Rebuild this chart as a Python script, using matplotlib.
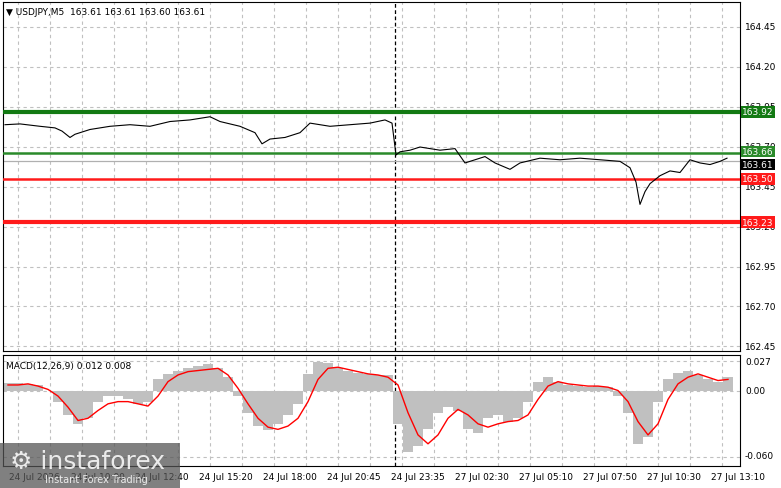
import numpy as np
import matplotlib
matplotlib.use("Agg")
import matplotlib.pyplot as plt
from matplotlib.patches import Rectangle

# price line: x in chart pixels, price values
px_x = [5,20,40,55,62,70,75,90,110,130,150,170,190,210,220,240,255,262,270,285,300,310,330,350,370,385,392,
        396,400,410,420,430,440,455,465,475,485,495,510,520,540,560,580,600,620,630,636,640,645,650,660,670,680,690,700,710,720,727]
price = [163.84,163.845,163.83,163.82,163.80,163.76,163.78,163.81,163.83,163.84,163.83,163.86,163.87,163.89,163.86,163.83,163.79,163.72,163.75,163.76,163.79,163.85,163.83,163.84,163.85,163.87,163.85,
         163.65,163.67,163.68,163.70,163.69,163.68,163.69,163.60,163.62,163.64,163.60,163.56,163.60,163.63,163.62,163.63,163.62,163.61,163.57,163.48,163.34,163.42,163.47,163.52,163.55,163.54,163.62,163.60,163.59,163.61,163.63]

hist = [7,7,6,5,0,-10,-22,-30,-25,-10,-5,-5,-8,-12,-10,10,15,18,20,22,24,20,12,-5,-20,-32,-36,-30,-22,-12,
        15,26,25,20,18,16,15,14,14,-30,-55,-50,-35,-20,-15,-18,-35,-38,-25,-22,-28,-25,-10,8,12,8,5,4,3,4,3,
        -5,-20,-48,-42,-10,10,16,18,14,10,8,12]
signal = [5,5,6,4,1,-5,-15,-27,-25,-18,-12,-10,-10,-12,-14,-5,8,14,17,18,19,20,14,2,-12,-25,-33,-35,-32,-25,
          -10,10,20,21,19,17,15,14,12,5,-20,-40,-48,-40,-25,-17,-22,-30,-33,-30,-28,-27,-22,-8,4,8,6,5,4,4,3,
          0,-10,-28,-40,-30,-8,6,12,15,12,9,10]

price_ticks = [164.45,164.20,163.95,163.70,163.45,163.20,162.95,162.70,162.45]
tick_labels = ["24 Jul 2026","24 Jul 10:00","24 Jul 12:40","24 Jul 15:20","24 Jul 18:00","24 Jul 20:45",
               "24 Jul 23:35","27 Jul 02:30","27 Jul 05:10","27 Jul 07:50","27 Jul 10:30","27 Jul 13:10"]
levels = [(163.92,'#137a13',3),(163.66,'#2a8a2a',1.8),(163.50,'#ff1a1a',1.8),(163.23,'#ff1a1a',3)]

W,H = 781,489
fig = plt.figure(figsize=(W/100,H/100),dpi=100)
plt.rcParams['font.family'] = 'DejaVu Sans'
def ax_at(l,t,r,b):
    return fig.add_axes([l/W,1-b/H,(r-l)/W,(b-t)/H])
ax = ax_at(3,3,740,352)
mx = ax_at(3,356,740,467)

to_bar = lambda x: (np.asarray(x)-3)/2
xmax = (740-3)/2
grid_x = np.arange(7.5,xmax,16)
for a in (ax,mx):
    a.set_xlim(0,xmax)
    a.set_xticks([]); a.set_yticks([])
    for gx in grid_x:
        a.axvline(gx,color='#c0c0c0',ls=(0,(3,3)),lw=0.8,zorder=0)
    a.axvline(to_bar(395),color='black',ls=(0,(3,2)),lw=0.9,zorder=1)
    for s in a.spines.values(): s.set_linewidth(0.8)

ax.set_ylim(162.42,164.61)
for p in price_ticks:
    ax.axhline(p,color='#c0c0c0',ls=(0,(3,3)),lw=0.8,zorder=0)
    fig.text(745/W,1-(28+(164.45-p)*160)/H,f"{p:.2f}",fontsize=6.5,va='center',ha='left')
ax.axhline(163.61,color='#b0b0b0',lw=0.9)
for lv,c,lw in levels:
    ax.axhline(lv,color=c,lw=lw,zorder=3)
ax.plot(to_bar(px_x),price,color='black',lw=0.8,zorder=4)
boxes = [(163.92,'#137a13','white'),(163.66,'#2a8a2a','white'),(163.61,'black','white'),(163.50,'#ff1a1a','white'),(163.23,'#ff1a1a','white')]
for v,bc,tc in boxes:
    y = 1-(28+(164.45-v)*160)/H
    if v==163.61: y -= 3/H
    if v==163.66: y += 2/H
    fig.text(742/W,y,f"{v:.2f}",fontsize=6.5,color=tc,va='center',ha='left',
             bbox=dict(boxstyle='square,pad=0.15',fc=bc,ec='none'))
ax.text(0.004,0.985,"▼ USDJPY,M5  163.61 163.61 163.60 163.61",transform=ax.transAxes,fontsize=6.5,va='top')

mx.set_ylim(-0.068,0.032)
for v in [0.027,0.0,-0.06]:
    mx.axhline(v,color='#c0c0c0',ls=(0,(3,3)),lw=0.8,zorder=0)
    fig.text(745/W,1-(392-v/0.00093)/H,f"{v:.3f}" if v else "0.00",fontsize=6.5,va='center',ha='left')
mxc = to_bar(np.arange(8,8+10*len(hist),10))
mx.bar(mxc,np.array(hist)/1000,width=5,color='#c0c0c0',zorder=2)
mx.plot(mxc,np.array(signal)/1000,color='red',lw=1,zorder=3)
mx.text(0.004,0.95,"MACD(12,26,9) 0.012 0.008",transform=mx.transAxes,fontsize=6.5,va='top')

for i,l in enumerate(tick_labels):
    fig.text((34+64*i)/W,1-478/H,l,fontsize=6.5,ha='center',va='center')

fig.patches.append(Rectangle((0,0),180/W,45/H,transform=fig.transFigure,fc='#555555',alpha=0.75,ec='none',zorder=5))
fig.text(10/W,1-462/H,"⚙ instaforex",fontsize=18,color='white',alpha=0.85,va='center',zorder=6)
fig.text(45/W,1-480/H,"Instant Forex Trading",fontsize=7,color='white',alpha=0.85,va='center',zorder=6)
fig.savefig("out.png",dpi=100)
